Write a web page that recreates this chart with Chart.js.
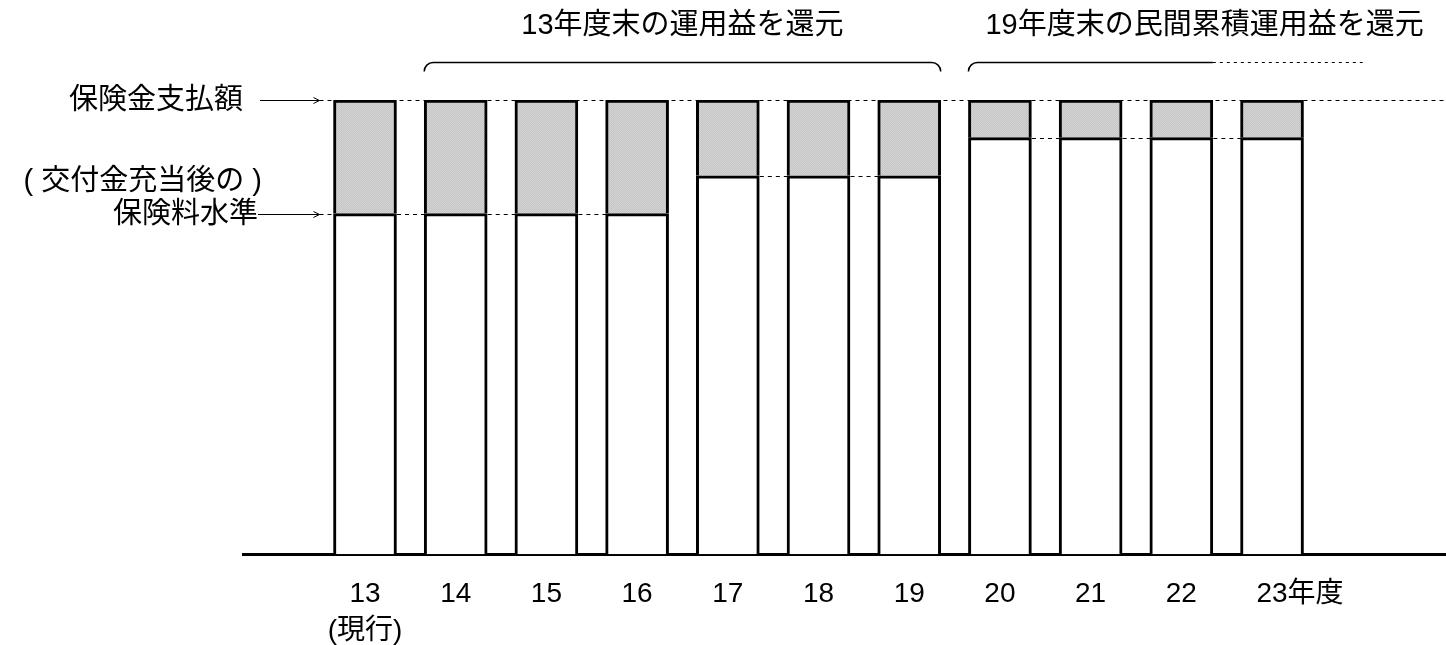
<!DOCTYPE html>
<html>
<head>
<meta charset="utf-8">
<script src="https://cdn.jsdelivr.net/npm/chart.js@4"></script>
<style>
    html, body { margin: 0; padding: 0; background: #fff; overflow: hidden; }
    #wrap { width: 1446px; height: 645px; }
</style>
</head>
<body>
<div id="wrap"><canvas id="chart"></canvas></div>
<script>
// fiscal years on the x axis
const years = [13, 14, 15, 16, 17, 18, 19, 20, 21, 22, 23];
const tickLabels = [["13", "(現行)"], "14", "15", "16", "17", "18", "19", "20", "21", "22", "23"];
const unitLabel = "年度";

// premium level (after subsidy) and payout level, payout = 100
const premiumLevel = [75, 75, 75, 75, 83.3, 83.3, 83.3, 91.7, 91.7, 91.7, 91.7];
const payoutLevel = [100, 100, 100, 100, 100, 100, 100, 100, 100, 100, 100];

const payoutText = "保険金支払額";
const noteText = "( 交付金充当後の )";
const premiumText = "保険料水準";
const titleA = "13年度末の運用益を還元";
const titleB = "19年度末の民間累積運用益を還元";

const FONT = "'Liberation Sans', 'Noto Sans CJK JP', sans-serif";
const BAR_W = 63;
const TICK_SIZE = 28;
const TICK_LH = 1.3;
const TICK_PAD = 22;

function makeGray() {
    const c = document.createElement("canvas");
    c.width = 2; c.height = 2;
    const g = c.getContext("2d");
    g.fillStyle = "#c6c6c6"; g.fillRect(0, 0, 2, 2);
    g.fillStyle = "#d3d3d3"; g.fillRect(0, 0, 1, 1); g.fillRect(1, 1, 1, 1);
    return g.createPattern(c, "repeat");
}

function line(ctx, x1, y1, x2, y2) {
    ctx.beginPath();
    ctx.moveTo(x1, y1);
    ctx.lineTo(x2, y2);
    ctx.stroke();
}

function arrow(ctx, x1, x2, y) {
    line(ctx, x1, y, x2, y);
    ctx.beginPath();
    ctx.moveTo(x2 - 6, y - 3);
    ctx.lineTo(x2, y);
    ctx.lineTo(x2 - 6, y + 3);
    ctx.stroke();
}

function bracket(ctx, x1, x2, y, r) {
    ctx.beginPath();
    ctx.moveTo(x1, y + r);
    ctx.arcTo(x1, y, x1 + r, y, r);
    ctx.lineTo(x2 - r, y);
    ctx.arcTo(x2, y, x2, y + r, r);
    ctx.stroke();
}

const annotations = {
    id: "annotations",

    beforeDatasetsDraw(chart) {
        const { ctx, chartArea } = chart;
        const xs = chart.scales.x;
        const ys = chart.scales.y;
        const tipX = xs.getPixelForValue(years[0]) - BAR_W / 2 - 14;

        ctx.save();
        ctx.strokeStyle = "#000";
        ctx.lineWidth = 1;
        ctx.setLineDash([4, 4]);

        // payout level runs across the whole chart
        const yTop = Math.round(ys.getPixelForValue(payoutLevel[0])) + 0.5;
        line(ctx, tipX, yTop, chartArea.right, yTop);

        // premium level from the arrow to the first bar
        const y0 = Math.round(ys.getPixelForValue(premiumLevel[0])) + 0.5;
        line(ctx, tipX, y0, xs.getPixelForValue(years[0]), y0);

        // join bars that share a premium level
        for (let i = 0; i < years.length - 1; i++) {
            if (premiumLevel[i] === premiumLevel[i + 1]) {
                const y = Math.round(ys.getPixelForValue(premiumLevel[i])) + 0.5;
                line(ctx, xs.getPixelForValue(years[i]), y, xs.getPixelForValue(years[i + 1]), y);
            }
        }
        ctx.restore();
    },

    afterDraw(chart) {
        const { ctx, chartArea } = chart;
        const xs = chart.scales.x;
        const ys = chart.scales.y;
        const half = BAR_W / 2;
        const tipX = xs.getPixelForValue(years[0]) - half - 14;
        const yTop = Math.round(ys.getPixelForValue(payoutLevel[0])) + 0.5;
        const y0 = Math.round(ys.getPixelForValue(premiumLevel[0])) + 0.5;

        ctx.save();
        ctx.fillStyle = "#000";
        ctx.strokeStyle = "#000";
        ctx.font = "29px " + FONT;
        ctx.textBaseline = "middle";

        // left side labels
        ctx.textAlign = "right";
        ctx.fillText(payoutText, chartArea.left, yTop);
        ctx.fillText(noteText, chartArea.left + 19, 182);
        ctx.fillText(premiumText, chartArea.left + 15, y0);

        ctx.lineWidth = 1;
        arrow(ctx, chartArea.left + 17, tipX, yTop);
        arrow(ctx, chartArea.left + 15, tipX, y0);

        // brackets over the periods
        const by = 62.5;
        ctx.lineWidth = 1.5;
        const a1 = xs.getPixelForValue(years[1]) - half;
        const a2 = xs.getPixelForValue(years[6]) + half;
        bracket(ctx, a1, a2, by, 9);

        const b1 = xs.getPixelForValue(years[7]) - half;
        const b2 = xs.getPixelForValue(years[9]) + half;
        ctx.beginPath();
        ctx.moveTo(b1, by + 9);
        ctx.arcTo(b1, by, b1 + 9, by, 9);
        ctx.lineTo(b2, by);
        ctx.stroke();
        ctx.lineWidth = 1;
        ctx.setLineDash([3, 4]);
        line(ctx, b2, by, xs.getPixelForValue(years[10] + 1), by);
        ctx.setLineDash([]);

        // titles
        ctx.textAlign = "center";
        ctx.fillText(titleA, (a1 + a2) / 2, 26);
        ctx.textAlign = "left";
        ctx.fillText(titleB, b1 + 17, 26);

        // unit after the last tick
        ctx.font = TICK_SIZE + "px " + FONT;
        const lastX = xs.getPixelForValue(years[years.length - 1]);
        const w = ctx.measureText(tickLabels[tickLabels.length - 1]).width;
        ctx.fillText(unitLabel, lastX + w / 2, xs.top + TICK_PAD + TICK_SIZE * TICK_LH / 2);
        ctx.restore();
    }
};

const gray = makeGray();

new Chart(document.getElementById("chart"), {
    type: "bar",
    data: {
        datasets: [
            {
                label: premiumText,
                data: years.map((x, i) => ({ x: x, y: premiumLevel[i] })),
                backgroundColor: "#fff",
                borderColor: "#000",
                borderWidth: 3,
                borderSkipped: "bottom",
                barThickness: BAR_W,
                grouped: false
            },
            {
                label: payoutText,
                data: years.map((x, i) => ({ x: x, y: [premiumLevel[i], payoutLevel[i]] })),
                backgroundColor: gray,
                borderColor: "#000",
                borderWidth: 3,
                borderSkipped: "bottom",
                barThickness: BAR_W,
                grouped: false
            }
        ]
    },
    options: {
        responsive: true,
        maintainAspectRatio: false,
        animation: false,
        devicePixelRatio: 1,
        // tick box is padding*2 + two label lines; pull it down so the axis sits at ~554
        layout: { padding: { left: 243, top: 100, right: 0, bottom: -26 } },
        plugins: {
            legend: { display: false },
            tooltip: { enabled: false }
        },
        scales: {
            x: {
                type: "linear",
                min: 11.655,
                max: 24.918,
                offset: false,
                grid: { display: false, drawTicks: false },
                border: { display: true, color: "#000", width: 3 },
                afterBuildTicks: scale => {
                    scale.ticks = years.map(v => ({ value: v }));
                },
                ticks: {
                    padding: TICK_PAD,
                    color: "#000",
                    maxRotation: 0,
                    autoSkip: false,
                    font: { family: FONT, size: TICK_SIZE, lineHeight: TICK_LH },
                    callback: (value) => tickLabels[years.indexOf(value)]
                }
            },
            y: {
                display: false,
                min: 0,
                max: 100
            }
        }
    },
    plugins: [annotations]
});
</script>
</body>
</html>
